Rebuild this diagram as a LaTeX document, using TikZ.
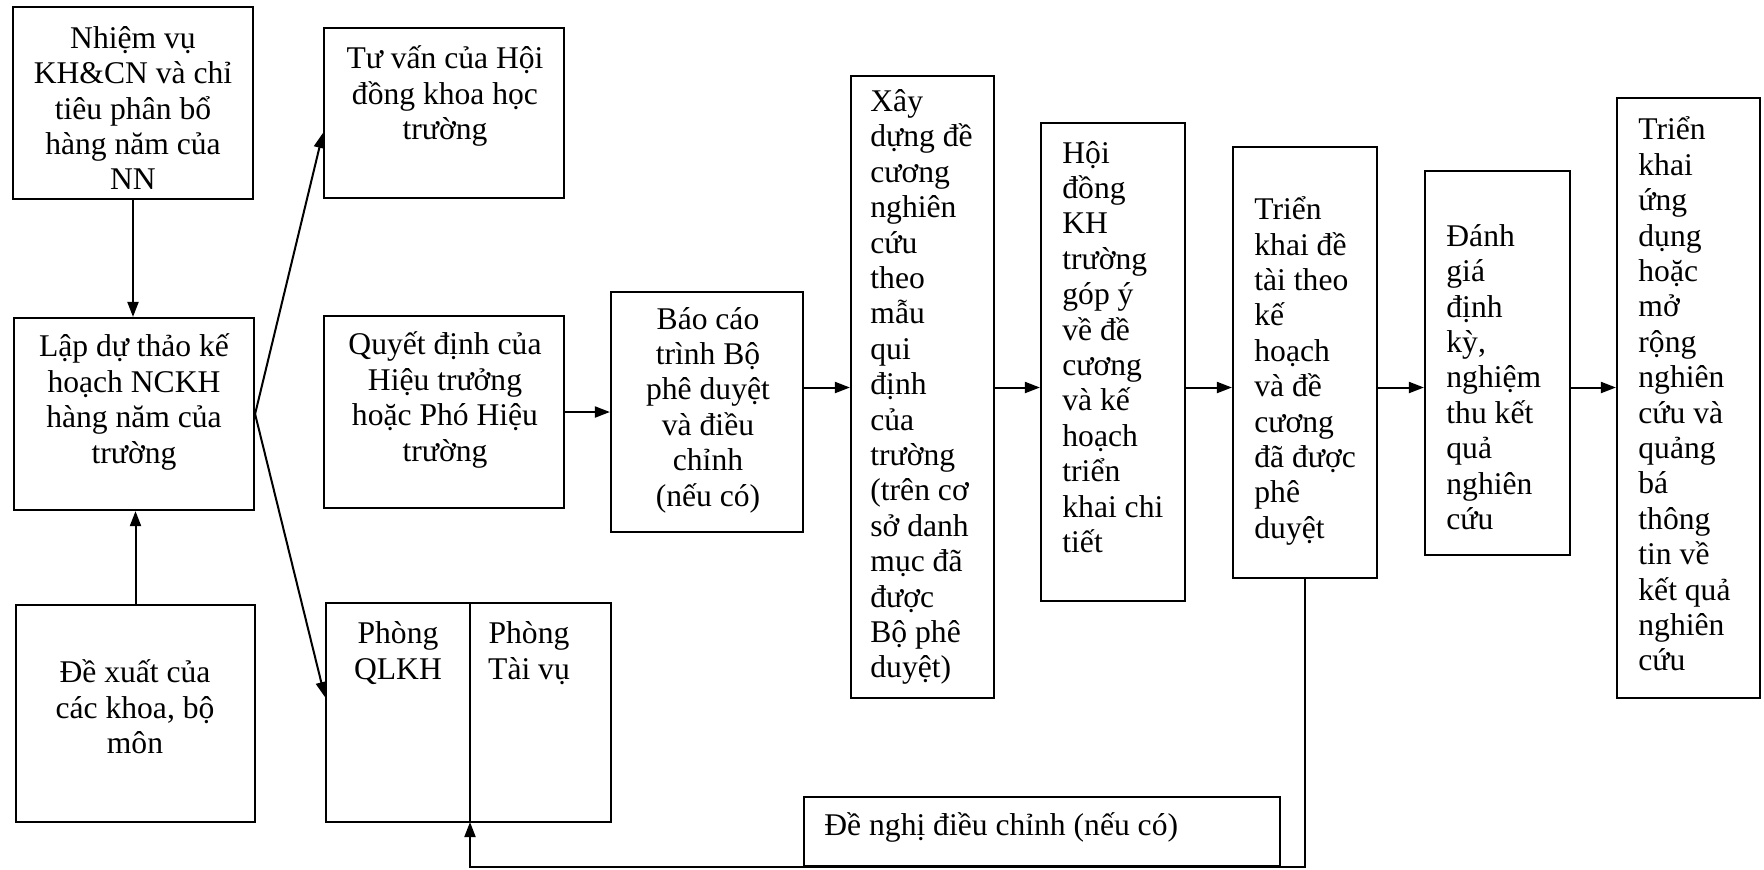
\documentclass[tikz,border=0pt]{standalone}
\usepackage{fontspec}
\setmainfont{Liberation Serif}
\usetikzlibrary{arrows.meta,fit}
\begin{document}
\begin{tikzpicture}[x=0.5pt,y=-0.5pt,
  box/.style={draw, line width=1.1pt, inner sep=0pt},
  txt/.style={inner sep=0pt, font=\fontsize{15.8pt}{17.7pt}\selectfont},
  ctr/.style={txt, align=center},
  lft/.style={txt, align=left, anchor=west},
  arr/.style={line width=1pt, -{Triangle[length=7.5pt,width=5.5pt]}},
  ln/.style={line width=1pt}]
\useasboundingbox (0,0) rectangle (1764,869);

% boxes
\node[box, fit={(13,7) (253,199)}] (A) {};
\node[box, fit={(14,318) (254,510)}] (B) {};
\node[box, fit={(16,605) (255,822)}] (C) {};
\node[box, fit={(324,28) (564,198)}] (D) {};
\node[box, fit={(324,316) (564,508)}] (E) {};
\node[box, fit={(326,603) (611,822)}] (F) {};
\node[box, fit={(611,292) (803,532)}] (G) {};
\node[box, fit={(851,76) (994,698)}] (H) {};
\node[box, fit={(1041,123) (1185,601)}] (I) {};
\node[box, fit={(1233,147) (1377,578)}] (J) {};
\node[box, fit={(1425,171) (1570,555)}] (K) {};
\node[box, fit={(1617,98) (1760,698)}] (L) {};
\node[box, fit={(804,797) (1280,866)}] (M) {};

% divider of F
\coordinate (Fdt) at (470,603);
\coordinate (Fdiv) at (470,822);
\draw[box] (Fdt) -- (Fdiv);

% texts
\node[ctr] (At) at (133,108) {Nhiệm vụ\\KH\&CN và chỉ\\tiêu phân bổ\\hàng năm của\\NN};
\node[ctr] (Bt) at (134,402) {Lập dự thảo kế\\hoạch NCKH\\hàng năm của\\trường};
\node[ctr] (Ct) at (135,707) {Đề xuất của\\các khoa, bộ\\môn};
\node[ctr] (Dt) at (445,96) {Tư vấn của Hội\\đồng khoa học\\trường};
\node[ctr] (Et) at (445,400) {Quyết định của\\Hiệu trưởng\\hoặc Phó Hiệu\\trường};
\node[ctr] (F1t) at (398,653) {Phòng\\QLKH};
\node[ctr] (F2t) at (529,653) {Phòng\\Tài vụ};
\node[ctr] (Gt) at (708,410) {Báo cáo\\trình Bộ\\phê duyệt\\và điều\\chỉnh\\(nếu có)};
\node[lft] (Ht) at (870,387) {Xây\\dựng đề\\cương\\nghiên\\cứu\\theo\\mẫu\\qui\\định\\của\\trường\\(trên cơ\\sở danh\\mục đã\\được\\Bộ phê\\duyệt)};
\node[lft] (It) at (1062,347) {Hội\\đồng\\KH\\trường\\góp ý\\về đề\\cương\\và kế\\hoạch\\triển\\khai chi\\tiết};
\node[lft] (Jt) at (1254,371) {Triển\\khai đề\\tài theo\\kế\\hoạch\\và đề\\cương\\đã được\\phê\\duyệt};
\node[lft] (Kt) at (1446,377) {Đánh\\giá\\định\\kỳ,\\nghiệm\\thu kết\\quả\\nghiên\\cứu};
\node[lft] (Lt) at (1638,394) {Triển\\khai\\ứng\\dụng\\hoặc\\mở\\rộng\\nghiên\\cứu và\\quảng\\bá\\thông\\tin về\\kết quả\\nghiên\\cứu};
\node[lft] (Mt) at (824,827) {Đề nghị điều chỉnh (nếu có)};

% connectors
\draw[arr] (A.south) -- (A.south |- B.north);
\draw[arr] (C.north) -- (C.north |- B.south);
\draw[arr] (B.east) -- (D.west |- 0,133);
\draw[arr] (B.east) -- (F.west |- 0,697);
\draw[arr] (E.east) -- (G.west);
\draw[arr] (G.east |- 0,387.5) -- (H.west |- 0,387.5);
\draw[arr] (H.east |- 0,387.5) -- (I.west |- 0,387.5);
\draw[arr] (I.east |- 0,387.5) -- (J.west |- 0,387.5);
\draw[arr] (J.east |- 0,387.5) -- (K.west |- 0,387.5);
\draw[arr] (K.east |- 0,387.5) -- (L.west |- 0,387.5);
\draw[arr] (J.south) -- (J.south |- M.south) -| (Fdiv);
\end{tikzpicture}
\end{document}
